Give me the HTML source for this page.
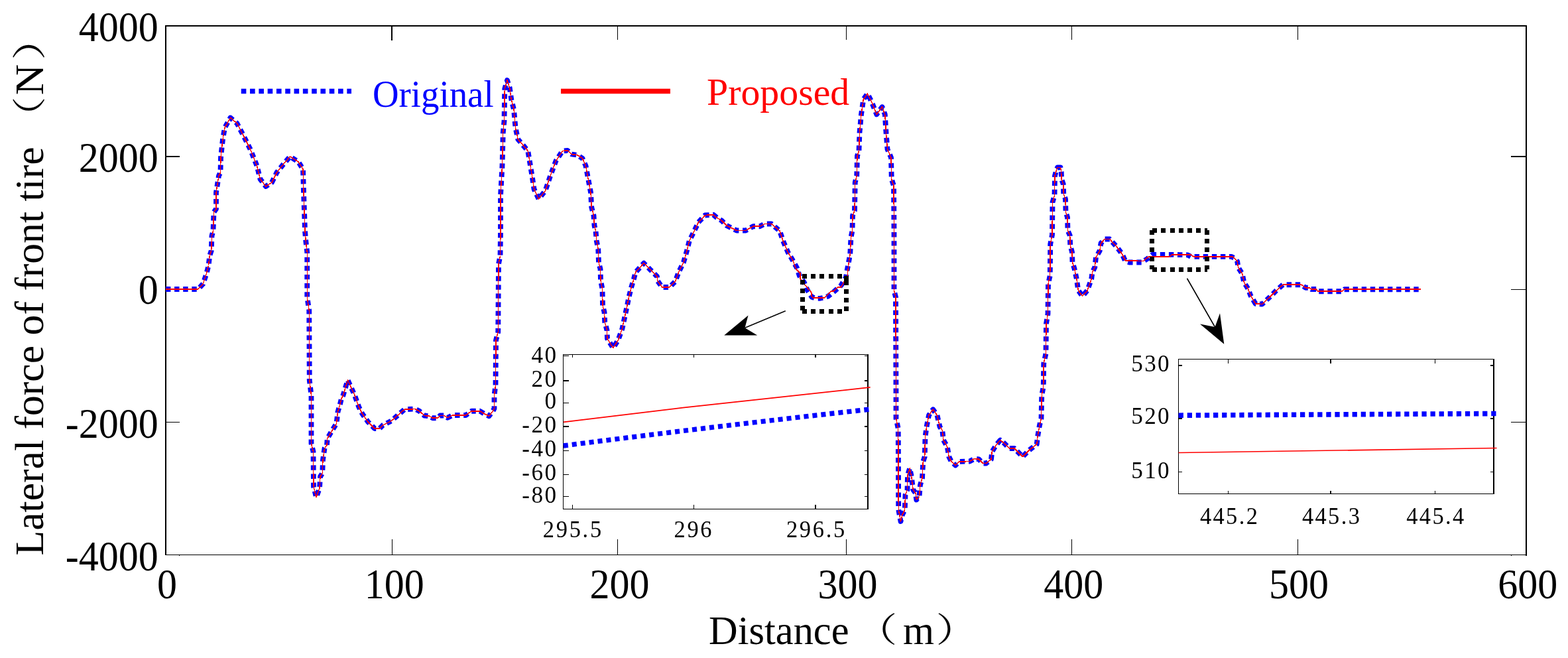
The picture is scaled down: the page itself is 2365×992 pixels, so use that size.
<!DOCTYPE html>
<html lang="en"><head><meta charset="utf-8"><title>Lateral force of front tire</title>
<style>html,body{margin:0;padding:0;background:#fff}body{width:2365px;height:992px;overflow:hidden}svg{display:block}text{font-family:"Liberation Serif","Noto Serif CJK SC",serif;white-space:pre}</style>
</head><body>
<svg width="2365" height="992" viewBox="0 0 2365 992">
<rect width="2365" height="992" fill="#fff"/>
<g fill="none" stroke="#000" shape-rendering="crispEdges">
<path d="M250,836.4 V39 H2302 V836.4" stroke-width="2"/>
<path d="M249,836.4 H2303" stroke-width="1.3"/>
<path d="M591.4,836.4 v-23 M931.7,836.4 v-23 M931.7,39 v21 M1276.3,836.4 v-23 M1276.3,39 v21 M1616.5,836.4 v-23 M1616.5,39 v21 M1957.7,836.4 v-23 M1957.7,39 v21 M250,436.2 h21 M2302,436.2 h-23 M250,636.4 h21 M2302,636.4 h-23 " stroke-width="1.3"/>
<path d="M591,39 v21.5 M250,236 h21 M2302,236 h-23" stroke-width="2"/>
<path d="M270.5,836.4 v1.6 M2279.5,836.4 v1.6 M2302,836.4 v2" stroke-width="1.3"/>
</g>
<path transform="scale(1,1.0)" d="M250,436.00 L298.75,436.00 L306.25,428.00 L311.25,413.00 L314.5,400.50 L316.25,385.50 L318.75,378.00 L319.5,355.50 L321.5,348.00 L322.5,320.00 L326,315.00 L326,290.00 L330,265.00 L332.5,260.00 L333,237.50 L336,210.00 L339,192.50 L347.5,177.50 L357.5,186.00 L367.5,205.00 L377.5,225.00 L387.5,250.00 L392.5,270.00 L401,281.00 L410,275.00 L417.5,260.00 L427.5,247.50 L437.5,236.00 L450,244.00 L457,255.00 L458,290.00 L460,348.00 L461.25,363.00 L463.25,380.50 L463.25,448.00 L466.25,468.00 L466.75,573.00 L469.5,596.00 L469.5,668.50 L472.5,681.00 L473,733.50 L477,749.75 L482,736.00 L483,718.50 L486.25,713.50 L487,693.50 L489.5,676.00 L493,671.00 L493.75,661.00 L501.25,648.50 L507.5,638.50 L509.5,621.00 L512.5,611.00 L515,601.00 L517.5,596.00 L524.5,573.00 L535,596.00 L541.25,613.50 L546.25,623.50 L555,636.00 L565,646.00 L572.5,646.00 L577.5,641.00 L590,634.75 L600,626.00 L610,617.25 L626.25,616.50 L632.5,619.75 L640,626.50 L647.5,627.25 L652.5,630.25 L660,630.25 L663.75,626.50 L670,626.50 L675,629.75 L682.5,626.00 L702.5,626.00 L711.25,619.75 L723.75,619.75 L730,623.50 L737.5,627.25 L742.5,621.00 L745.5,616.00 L745.5,596.00 L747.5,580.50 L748,513.00 L751.25,500.50 L752,398.00 L754.5,385.50 L755,348.00 L755,295.00 L757.5,250.00 L758.75,200.00 L760.5,182.50 L761.25,133.75 L765,121.00 L768.75,132.50 L771.25,150.00 L775,165.00 L777.5,192.50 L781.25,210.00 L796.25,227.50 L800,250.00 L802.5,265.00 L805.5,285.00 L812.5,300.00 L822.5,287.50 L831,262.50 L838.5,242.50 L848.5,227.50 L856,227.00 L862.25,232.50 L871,233.75 L878.5,238.75 L883.5,250.00 L887.25,270.00 L891,290.00 L892.25,312.50 L895.5,325.00 L896.5,340.00 L898.5,348.00 L899.75,363.00 L902.25,375.50 L903,395.50 L905.5,405.50 L906,423.00 L908.5,435.50 L909,460.50 L911.5,470.50 L912.25,485.50 L915.5,498.00 L916,510.50 L924.75,524.50 L932.25,513.00 L938.5,495.50 L942.25,478.00 L946,460.50 L948.5,448.00 L952.25,433.00 L956,420.50 L958.5,410.50 L971,396.75 L981,406.75 L991,416.75 L991.5,423.00 L998.5,433.00 L1009.75,433.00 L1018.5,424.25 L1023.5,410.50 L1031,395.50 L1036,378.00 L1039.75,363.00 L1046,350.50 L1053.5,335.00 L1063.5,324.50 L1076,323.75 L1081,328.00 L1088.5,332.50 L1096,340.00 L1111,347.50 L1124.75,347.50 L1136,341.25 L1146,341.25 L1153.5,337.50 L1163.5,337.50 L1176,348.00 L1181,363.00 L1188.5,380.50 L1196,393.00 L1202.1,404.20 L1205.8,415.70 L1213,426.00 L1217.8,437.50 L1224.5,447.80 L1231,450.00 L1237,449.80 L1243,448.60 L1249.3,446.60 L1259,438.70 L1268.6,430.20 L1275.9,418.10 L1277.7,407.30 L1279.5,398.00 L1282.25,383.00 L1283.5,358.00 L1285.5,348.00 L1286,325.00 L1289,317.50 L1289.75,275.00 L1292.25,265.00 L1293,235.00 L1295.5,227.50 L1296.5,200.00 L1299,172.50 L1302.25,150.00 L1308.5,141.25 L1314.75,153.75 L1322.25,172.50 L1330.5,161.25 L1334.75,172.50 L1336.5,200.00 L1338.5,225.00 L1344,237.50 L1344.75,270.00 L1348,280.00 L1348.5,348.00 L1348.5,438.00 L1351,448.00 L1351.5,596.00 L1351.5,631.00 L1354.75,646.00 L1355.25,768.50 L1358.5,786.00 L1361,776.00 L1364.75,768.50 L1365.5,746.00 L1368.5,738.50 L1369,716.00 L1372.25,706.00 L1374.75,718.50 L1377.25,738.50 L1381,743.50 L1382.25,753.50 L1386.5,748.50 L1388,731.00 L1391,721.00 L1392.25,696.00 L1394.75,688.50 L1395.5,658.50 L1398,641.00 L1401,626.00 L1407.25,617.25 L1413.5,626.00 L1417.5,643.50 L1421.25,648.50 L1423,663.50 L1428.75,673.50 L1431.25,688.50 L1435,696.00 L1441.25,701.50 L1446.25,696.00 L1462.5,695.50 L1470,691.50 L1476.25,692.25 L1482.5,698.50 L1487.5,698.50 L1495,692.25 L1496.25,681.00 L1502.5,671.00 L1508.75,663.50 L1515,668.50 L1522.5,676.00 L1530,676.00 L1542.5,688.50 L1552.5,678.50 L1563.75,669.75 L1565,658.50 L1568,641.00 L1570.5,631.00 L1571.25,596.00 L1573.75,583.00 L1574.25,548.00 L1577.5,533.00 L1578,488.00 L1580.5,473.00 L1581,428.00 L1583.75,415.50 L1584.25,368.00 L1587,354.00 L1587.5,305.00 L1590.5,295.00 L1591,265.00 L1593.5,256.00 L1595,252.50 L1599.5,252.50 L1600.75,259.00 L1601,270.00 L1603.75,277.50 L1604.25,292.50 L1607,300.00 L1607.5,320.00 L1610,327.50 L1610.5,347.50 L1613.75,355.00 L1614.25,370.00 L1617,380.00 L1617.5,395.00 L1620.5,405.00 L1623.75,420.00 L1626.25,437.50 L1632.5,446.50 L1640,438.00 L1646.25,420.50 L1647.5,410.50 L1651.25,403.00 L1653,388.00 L1658.75,378.00 L1660.5,366.75 L1666.25,360.50 L1673.75,360.50 L1685,373.00 L1692.5,383.00 L1697.5,394.00 L1703,395.50 L1722,395.50 L1730,390.50 L1738,384.00 L1765,383.80 L1791,384.30 L1796,386.80 L1857,386.80 L1862,389.00 L1866.25,394.25 L1867.5,403.00 L1873.75,413.00 L1876.25,425.50 L1882.5,435.50 L1886.25,445.50 L1893.75,458.00 L1903.75,458.50 L1915,448.00 L1925,438.00 L1935,429.25 L1963,429.25 L1969,433.75 L1974.5,433.75 L1977.75,436.00 L1985.25,436.00 L1987.75,439.25 L2024,439.25 L2027.75,436.25 L2142.75,436.25" fill="none" stroke="#0000ff" stroke-width="7.8" stroke-dasharray="7.4 5.7" stroke-linejoin="round"/>
<path transform="scale(1,1.2)" d="M250,363.33 L298.75,363.33 L306.25,356.67 L311.25,344.17 L314.5,333.75 L316.25,321.25 L318.75,315.00 L319.5,296.25 L321.5,290.00 L322.5,266.67 L326,262.50 L326,241.67 L330,220.83 L332.5,216.67 L333,197.92 L336,175.00 L339,160.42 L347.5,147.92 L357.5,155.00 L367.5,170.83 L377.5,187.50 L387.5,208.33 L392.5,225.00 L401,234.17 L410,229.17 L417.5,216.67 L427.5,206.25 L437.5,196.67 L450,203.33 L457,212.50 L458,241.67 L460,290.00 L461.25,302.50 L463.25,317.08 L463.25,373.33 L466.25,390.00 L466.75,477.50 L469.5,496.67 L469.5,557.08 L472.5,567.50 L473,611.25 L477,624.79 L482,613.33 L483,598.75 L486.25,594.58 L487,577.92 L489.5,563.33 L493,559.17 L493.75,550.83 L501.25,540.42 L507.5,532.08 L509.5,517.50 L512.5,509.17 L515,500.83 L517.5,496.67 L524.5,477.50 L535,496.67 L541.25,511.25 L546.25,519.58 L555,530.00 L565,538.33 L572.5,538.33 L577.5,534.17 L590,528.96 L600,521.67 L610,514.38 L626.25,513.75 L632.5,516.46 L640,522.08 L647.5,522.71 L652.5,525.21 L660,525.21 L663.75,522.08 L670,522.08 L675,524.79 L682.5,521.67 L702.5,521.67 L711.25,516.46 L723.75,516.46 L730,519.58 L737.5,522.71 L742.5,517.50 L745.5,513.33 L745.5,496.67 L747.5,483.75 L748,427.50 L751.25,417.08 L752,331.67 L754.5,321.25 L755,290.00 L755,245.83 L757.5,208.33 L758.75,166.67 L760.5,152.08 L761.25,111.46 L765,100.83 L768.75,110.42 L771.25,125.00 L775,137.50 L777.5,160.42 L781.25,175.00 L796.25,189.58 L800,208.33 L802.5,220.83 L805.5,237.50 L812.5,250.00 L822.5,239.58 L831,218.75 L838.5,202.08 L848.5,189.58 L856,189.17 L862.25,193.75 L871,194.79 L878.5,198.96 L883.5,208.33 L887.25,225.00 L891,241.67 L892.25,260.42 L895.5,270.83 L896.5,283.33 L898.5,290.00 L899.75,302.50 L902.25,312.92 L903,329.58 L905.5,337.92 L906,352.50 L908.5,362.92 L909,383.75 L911.5,392.08 L912.25,404.58 L915.5,415.00 L916,425.42 L924.75,437.08 L932.25,427.50 L938.5,412.92 L942.25,398.33 L946,383.75 L948.5,373.33 L952.25,360.83 L956,350.42 L958.5,342.08 L971,330.62 L981,338.96 L991,347.29 L991.5,352.50 L998.5,360.83 L1009.75,360.83 L1018.5,353.54 L1023.5,342.08 L1031,329.58 L1036,315.00 L1039.75,302.50 L1046,292.08 L1053.5,279.17 L1063.5,270.42 L1076,269.79 L1081,273.33 L1088.5,277.08 L1096,283.33 L1111,289.58 L1124.75,289.58 L1136,284.38 L1146,284.38 L1153.5,281.25 L1163.5,281.25 L1176,290.00 L1181,302.50 L1188.5,317.08 L1196,327.50 L1201,338.33 L1207,343.33 L1207,350.50 L1223.9,367.58 L1223.9,371.67 L1227,374.42 L1243.3,374.42 L1253,366.08 L1256.6,366.08 L1263.9,360.58 L1268.7,360.58 L1278.4,345.42 L1279.6,333.33 L1282.25,319.17 L1283.5,298.33 L1285.5,290.00 L1286,270.83 L1289,264.58 L1289.75,229.17 L1292.25,220.83 L1293,195.83 L1295.5,189.58 L1296.5,166.67 L1299,143.75 L1302.25,125.00 L1308.5,117.71 L1314.75,128.12 L1322.25,143.75 L1330.5,134.38 L1334.75,143.75 L1336.5,166.67 L1338.5,187.50 L1344,197.92 L1344.75,225.00 L1348,233.33 L1348.5,290.00 L1348.5,365.00 L1351,373.33 L1351.5,496.67 L1351.5,525.83 L1354.75,538.33 L1355.25,640.42 L1358.5,655.00 L1361,646.67 L1364.75,640.42 L1365.5,621.67 L1368.5,615.42 L1369,596.67 L1372.25,588.33 L1374.75,598.75 L1377.25,615.42 L1381,619.58 L1382.25,627.92 L1386.5,623.75 L1388,609.17 L1391,600.83 L1392.25,580.00 L1394.75,573.75 L1395.5,548.75 L1398,534.17 L1401,521.67 L1407.25,514.38 L1413.5,521.67 L1417.5,536.25 L1421.25,540.42 L1423,552.92 L1428.75,561.25 L1431.25,573.75 L1435,580.00 L1441.25,584.58 L1446.25,580.00 L1462.5,579.58 L1470,576.25 L1476.25,576.88 L1482.5,582.08 L1487.5,582.08 L1495,576.88 L1496.25,567.50 L1502.5,559.17 L1508.75,552.92 L1515,557.08 L1522.5,563.33 L1530,563.33 L1542.5,573.75 L1552.5,565.42 L1563.75,558.12 L1565,548.75 L1568,534.17 L1570.5,525.83 L1571.25,496.67 L1573.75,485.83 L1574.25,456.67 L1577.5,444.17 L1578,406.67 L1580.5,394.17 L1581,356.67 L1583.75,346.25 L1584.25,306.67 L1587,295.00 L1587.5,254.17 L1590.5,245.83 L1591,220.83 L1593.5,213.33 L1595,210.42 L1599.5,210.42 L1600.75,215.83 L1601,225.00 L1603.75,231.25 L1604.25,243.75 L1607,250.00 L1607.5,266.67 L1610,272.92 L1610.5,289.58 L1613.75,295.83 L1614.25,308.33 L1617,316.67 L1617.5,329.17 L1620.5,337.50 L1623.75,350.00 L1626.25,364.58 L1632.5,372.08 L1640,365.00 L1646.25,350.42 L1647.5,342.08 L1651.25,335.83 L1653,323.33 L1658.75,315.00 L1660.5,305.62 L1666.25,300.42 L1673.75,300.42 L1685,310.83 L1692.5,319.17 L1697.5,327.50 L1725,327.92 L1732.5,322.29 L1763.75,322.29 L1767.5,320.21 L1796.25,320.21 L1801.25,322.71 L1860,322.71 L1866.25,328.54 L1867.5,335.83 L1873.75,344.17 L1876.25,354.58 L1882.5,362.92 L1886.25,371.25 L1893.75,381.67 L1903.75,382.08 L1915,373.33 L1925,365.00 L1935,357.71 L1963,357.71 L1969,361.46 L1974.5,361.46 L1977.75,363.33 L1985.25,363.33 L1987.75,366.04 L2024,366.04 L2027.75,363.54 L2142.75,363.54" fill="none" stroke="#ff0000" stroke-width="1.4" stroke-linejoin="round" shape-rendering="crispEdges"/>
<path d="M363.75,137.5 H530" fill="none" stroke="#0000ff" stroke-width="7.5" stroke-dasharray="7.6 5.7"/>
<path d="M846,137.5 H1011" fill="none" stroke="#ff0000" stroke-width="7.5"/>
<text transform="translate(562,161) scale(0.962,1)" font-size="57" text-anchor="start" fill="#0000ff">Original</text>
<text transform="translate(1066,158.3) scale(1.015,1)" font-size="57" text-anchor="start" fill="#ff0000">Proposed</text>
<g fill="none" stroke="#000" stroke-width="7" stroke-dasharray="7 6.2" shape-rendering="crispEdges">
<path d="M1210,416.4 H1270.2"/>
<path d="M1210,469 H1270.2"/>
<path d="M1210.6,421.8 V468.5"/>
<path d="M1276,416.3 V423 M1276,422.8 V469"/>
<path d="M1738.1,347.4 H1821"/>
<path d="M1738.1,406.3 H1821"/>
<path d="M1737.7,346.9 V406.3"/>
<path d="M1820,346.9 V406.3"/>
</g>
<g stroke="#000" stroke-width="1.6" fill="#000">
<path d="M1184.75,468.75 L1123.5,494.25" fill="none"/>
<path d="M1092.25,505.5 L1128.5,475.5 L1123.5,494.25 L1142.25,505.5 Z" stroke="none"/>
<path d="M1790.5,419.75 L1832.5,493" fill="none"/>
<path d="M1846.25,518.75 L1810,488.5 L1832.5,493 L1840,472.25 Z" stroke="none"/>
</g>
<g fill="none" stroke="#000" stroke-width="1.3" shape-rendering="crispEdges">
<rect x="849.8" y="534.2" width="459.1" height="233.3"/>
<path d="M863.2,767.5 v-7 M863.2,534.2 v5 M1046.6,767.5 v-7 M1046.6,534.2 v5 M1229.9,767.5 v-7 M1229.9,534.2 v5 M849.8,536.3 h8 M1308.9,536.3 h-5 M849.8,574.1 h8 M1308.9,574.1 h-5 M849.8,607.3 h8 M1308.9,607.3 h-5 M849.8,643 h8 M1308.9,643 h-5 M849.8,679.2 h8 M1308.9,679.2 h-5 M849.8,715.4 h8 M1308.9,715.4 h-5 M849.8,748.3 h8 M1308.9,748.3 h-5 "/>
</g>
<path d="M849.8,672 Q1080,642.5 1312.6,617" fill="none" stroke="#0000ff" stroke-width="7.4" stroke-dasharray="7.1 5.95"/>
<path d="M849.8,636.3 L1030,614.6 L1312.6,583.9" fill="none" stroke="#ff0000" stroke-width="1.7"/>
<text transform="translate(841.6,546.8) scale(0.975,1)" font-size="36" text-anchor="end" fill="#000" style="letter-spacing:2.6px">40</text>
<text transform="translate(841.6,583.2) scale(0.975,1)" font-size="36" text-anchor="end" fill="#000" style="letter-spacing:2.6px">20</text>
<text transform="translate(841.6,616.1) scale(0.975,1)" font-size="36" text-anchor="end" fill="#000" style="letter-spacing:2.6px">0</text>
<text transform="translate(841.6,652.3) scale(0.975,1)" font-size="36" text-anchor="end" fill="#000" style="letter-spacing:2.6px">-20</text>
<text transform="translate(841.6,688.1) scale(0.975,1)" font-size="36" text-anchor="end" fill="#000" style="letter-spacing:2.6px">-40</text>
<text transform="translate(841.6,723.9) scale(0.975,1)" font-size="36" text-anchor="end" fill="#000" style="letter-spacing:2.6px">-60</text>
<text transform="translate(841.6,758.2) scale(0.975,1)" font-size="36" text-anchor="end" fill="#000" style="letter-spacing:2.6px">-80</text>
<text transform="translate(864.3,810) scale(0.97,1)" font-size="35.5" text-anchor="middle" fill="#000" style="letter-spacing:2.8px">295.5</text>
<text transform="translate(1046.4,810) scale(0.97,1)" font-size="35.5" text-anchor="middle" fill="#000" style="letter-spacing:2.8px">296</text>
<text transform="translate(1231.4,810) scale(0.97,1)" font-size="35.5" text-anchor="middle" fill="#000" style="letter-spacing:2.8px">296.5</text>
<g fill="none" stroke="#000" stroke-width="1.3" shape-rendering="crispEdges">
<rect x="1777.6" y="541.5" width="475.3" height="202.8"/>
<path d="M1852.8,744.3 v-4 M1852.8,541.5 v6 M2006.9,744.3 v-4 M2006.9,541.5 v6 M2164.4,744.3 v-4 M2164.4,541.5 v6 M1777.6,551 h5 M2252.9,551 h-5 M1777.6,631 h5 M2252.9,631 h-5 M1777.6,711.8 h5 M2252.9,711.8 h-5 "/>
</g>
<path d="M1777.6,626.2 L2257.5,623.5" fill="none" stroke="#0000ff" stroke-width="7.6" stroke-dasharray="7.3 5.8"/>
<path d="M1777.6,682.5 L2257.5,675.5" fill="none" stroke="#ff0000" stroke-width="1.7"/>
<text transform="translate(1766,560) scale(0.975,1)" font-size="36" text-anchor="end" fill="#000" style="letter-spacing:2.4px">530</text>
<text transform="translate(1766,639.4) scale(0.975,1)" font-size="36" text-anchor="end" fill="#000" style="letter-spacing:2.4px">520</text>
<text transform="translate(1766,721.2) scale(0.975,1)" font-size="36" text-anchor="end" fill="#000" style="letter-spacing:2.4px">510</text>
<text transform="translate(1854.6,790) scale(0.97,1)" font-size="35.5" text-anchor="middle" fill="#000" style="letter-spacing:2.45px">445.2</text>
<text transform="translate(2008.6,790) scale(0.97,1)" font-size="35.5" text-anchor="middle" fill="#000" style="letter-spacing:2.45px">445.3</text>
<text transform="translate(2165.9,790) scale(0.97,1)" font-size="35.5" text-anchor="middle" fill="#000" style="letter-spacing:2.45px">445.4</text>
<text transform="translate(238.7,62) scale(0.96,1)" font-size="62.5" text-anchor="end" fill="#000">4000</text>
<text transform="translate(238.7,259.25) scale(0.96,1)" font-size="62.5" text-anchor="end" fill="#000">2000</text>
<text transform="translate(238.7,458.2) scale(0.96,1)" font-size="62.5" text-anchor="end" fill="#000">0</text>
<text transform="translate(238.7,659.75) scale(0.96,1)" font-size="62.5" text-anchor="end" fill="#000">-2000</text>
<text transform="translate(238.7,860.25) scale(0.96,1)" font-size="62.5" text-anchor="end" fill="#000">-4000</text>
<text transform="translate(252.1,902) scale(0.96,1)" font-size="62.5" text-anchor="middle" fill="#000">0</text>
<text transform="translate(594.7,902) scale(0.96,1)" font-size="62.5" text-anchor="middle" fill="#000">100</text>
<text transform="translate(934.4,902) scale(0.96,1)" font-size="62.5" text-anchor="middle" fill="#000">200</text>
<text transform="translate(1278.6,902) scale(0.96,1)" font-size="62.5" text-anchor="middle" fill="#000">300</text>
<text transform="translate(1619.3,902) scale(0.96,1)" font-size="62.5" text-anchor="middle" fill="#000">400</text>
<text transform="translate(1959,902) scale(0.96,1)" font-size="62.5" text-anchor="middle" fill="#000">500</text>
<text transform="translate(2304.3,902) scale(0.96,1)" font-size="62.5" text-anchor="middle" fill="#000">600</text>
<text x="1069.1" y="971" font-size="61.5" fill="#000"><tspan textLength="226.5" lengthAdjust="spacingAndGlyphs">Distance </tspan><tspan x="1290.6" y="968" font-size="51" textLength="62.8" lengthAdjust="spacingAndGlyphs">（</tspan><tspan x="1361.9" y="971" textLength="47" lengthAdjust="spacingAndGlyphs">m</tspan><tspan x="1411.4" y="968" font-size="51" textLength="62.8" lengthAdjust="spacingAndGlyphs">）</tspan></text>
<text transform="translate(64.9,837.5) rotate(-90)" x="0" y="0" font-size="61.5" fill="#000"><tspan textLength="631.5" lengthAdjust="spacingAndGlyphs">Lateral force of front tire </tspan><tspan x="631.3" y="-2.4" font-size="51" textLength="60.7" lengthAdjust="spacingAndGlyphs">（</tspan><tspan x="694.3" y="0" textLength="46.5" lengthAdjust="spacingAndGlyphs">N</tspan><tspan x="746.5" y="-2.4" font-size="51" textLength="66.3" lengthAdjust="spacingAndGlyphs">）</tspan></text>
</svg>
</body></html>
